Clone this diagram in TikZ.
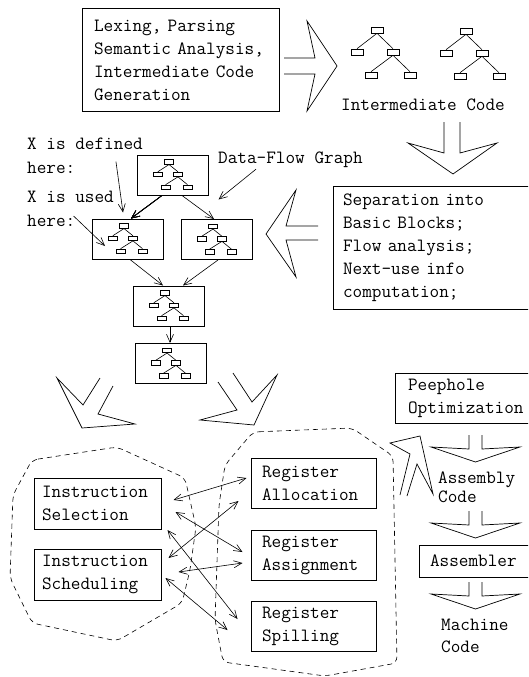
\documentclass[tikz,border=0pt]{standalone}
\usepackage{fontspec}
\usetikzlibrary{arrows.meta,calc}
\tikzset{
  stage/.style={draw,line width=1pt,inner sep=0pt,align=left,
    font=\ttfamily\fontsize{18.7}{23}\selectfont},
  instr/.style={stage,minimum width=127pt,minimum height=51pt,text width=111pt},
  reg/.style={stage,minimum width=125pt,minimum height=50pt,text width=103pt},
  dfg/.style={draw,line width=1pt,minimum width=71pt,minimum height=40pt,inner sep=0pt},
  tnode/.style={draw,line width=0.6pt,inner sep=0pt,minimum width=12pt,minimum height=6pt},
  tsmall/.style={tnode,minimum width=9pt,minimum height=4.5pt},
  lbl/.style={inner sep=0pt,anchor=west,text height=10pt,text depth=1pt,
    font=\ttfamily\fontsize{18.7}{23}\selectfont},
  fat/.style={line width=0.7pt,line join=miter},
  flow/.style={-{Straight Barb[length=8pt,width=7pt]},line width=0.6pt},
  link/.style={{Straight Barb[length=8pt,width=7pt]}-{Straight Barb[length=8pt,width=7pt]},line width=0.6pt},
  region/.style={dash pattern=on 5pt off 4pt,line width=0.6pt,rounded corners=6pt}
}
% a small expression tree: root position, spread, box style
\newcommand{\codetree}[3]{%
  \begin{scope}[shift={#1},x=#2pt,y=-#2pt]
    \node[#3] (tr) at (0,0) {};
    \node[#3] (ta) at (-20,22) {};
    \node[#3] (tb) at (16,22) {};
    \node[#3] (tc) at (-6,45) {};
    \node[#3] (td) at (33,45) {};
    \draw[line width=0.6pt] (tr.south) -- (ta.north) (tr.south) -- (tb.north)
      (tb.south) -- (tc.north) (tb.south) -- (td.north);
  \end{scope}}

\begin{document}
\begin{tikzpicture}[x=1pt,y=-1pt]
  \useasboundingbox (0,0) rectangle (528,677);
  \clip (0,0) rectangle (528,677);

  % front end
  \node[stage,minimum width=197pt,minimum height=102pt,text width=173pt] (lex) at (180.5,60)
    {Lexing, Parsing\\Semantic Analysis,\\Intermediate Code\\Generation};
  \draw[fat] (284,58) -- (315,58) -- (307,21) -- (337,66) -- (307,111) -- (315,74) -- (284,74);
  \codetree{(377,30)}{1}{tnode}
  \codetree{(466,31)}{1}{tnode}
  \node[lbl,anchor=center] (ic) at (423,106) {Intermediate Code};
  \draw[fat] (444,122) -- (444,153) -- (408,143) -- (453,174) -- (497,143) -- (460,153) -- (460,122);

  % basic blocks
  \node[stage,minimum width=212pt,minimum height=123pt,text width=192pt] (sep) at (439,247.5)
    {Separation into\\Basic Blocks;\\Flow analysis;\\Next-use info\\computation;};
  \draw[fat] (318,226) -- (286,226) -- (296,190) -- (266,234) -- (296,277) -- (286,240) -- (318,240);

  % data-flow graph
  \node[dfg] (dfgA) at (173,175) {};
  \node[dfg] (dfgB) at (128,239) {};
  \node[dfg] (dfgC) at (217,239.5) {};
  \node[dfg] (dfgD) at (169,306) {};
  \node[dfg] (dfgE) at (171,363.5) {};
  \foreach \n in {dfgA,dfgB,dfgC,dfgD,dfgE}
    \codetree{($(\n)+(-4,-13)$)}{0.56}{tsmall}
  \draw[flow] ([xshift=-11pt]dfgA.south) -- ([xshift=3pt]dfgB.north);
  \draw[flow] ([xshift=9pt]dfgA.south) -- ([xshift=-3pt]dfgC.north);
  \draw[flow] ([xshift=2pt]dfgB.south) -- ([xshift=-6pt]dfgD.north);
  \draw[flow] ([xshift=1pt]dfgC.south) -- ([xshift=14pt]dfgD.north);
  \draw[flow] ([xshift=1pt]dfgD.south) -- ([xshift=-1pt]dfgE.north);

  \node[lbl] (xdef) at (27,145) {X is defined};
  \node[lbl] (xdefh) at (27,169) {here:};
  \node[lbl] (xuse) at (27,198) {X is used};
  \node[lbl] (xuseh) at (27,222) {here:};
  \node[lbl] (dfl) at (218,159) {Data-Flow Graph};
  \draw[flow] ([shift={(-27,11)}]xdef.south east) -- ([shift={(-5,-6)}]dfgB.north);
  \draw[flow] ([shift={(-2,-6)}]xuseh.east) -- ([shift={(13,7)}]dfgB.west);
  \draw[flow] ([shift={(38,4.5)}]dfl.south west) -- ([shift={(9.5,4)}]dfgA.south east);

  % down to the two code generation groups
  \draw[fat] (100,378) -- (83,405) -- (57,378) -- (82,428) -- (135,424) -- (98,414) -- (113,386);
  \draw[fat] (218,382) -- (237,410) -- (200,420) -- (254,425) -- (277,375) -- (252,402) -- (233,373);

  \draw[region] (32,460) -- (117,447) -- (185,478) -- (196,527) -- (190,570) -- (182,603)
    -- (117,641) -- (32,623) -- (10,578) -- (13,495) -- cycle;
  \draw[region] (253,432) -- (352,428) -- (393,456) -- (397,663) -- (325,676) -- (223,662)
    -- (215,620) -- (219,505) -- (225,465) -- cycle;

  \node[instr] (sel) at (97.5,503.5) {Instruction\\Selection};
  \node[instr] (sched) at (97.5,574.5) {Instruction\\Scheduling};
  \node[reg] (alloc) at (313.5,483) {Register\\Allocation};
  \node[reg] (assign) at (313.5,555) {Register\\Assignment};
  \node[reg] (spill) at (313.5,626) {Register\\Spilling};

  \draw[link] ([shift={(12,-3.5)}]sel.east) -- ([shift={(-4,-5)}]alloc.west);
  \draw[link] ([shift={(14,8.5)}]sel.east) -- ([shift={(-8,-3)}]assign.west);
  \draw[link] ([shift={(-12,18)}]alloc.west) -- ([shift={(7,-16.5)}]sched.east);
  \draw[link] ([shift={(17,-2.5)}]sched.east) -- ([shift={(-8,8)}]assign.west);
  \draw[link] ([shift={(6,26.5)}]sel.east) -- ([shift={(-13,-7)}]spill.west);
  \draw[link] ([shift={(4,3.5)}]sched.east) -- ([shift={(-23,4)}]spill.west);

  % back end
  \draw[fat] (400,495) -- (410,454) -- (390,443) -- (420,436) -- (433,494) -- (417,464) -- (407,496);
  \node[stage,minimum width=145pt,minimum height=50pt,text width=119pt] (peep) at (467.5,398)
    {Peephole\\Optimization};
  \node[lbl] (asmc) at (438,479) {Assembly};
  \node[lbl] (asmc2) at (438,498) {Code};
  \node[stage,minimum width=121pt,minimum height=32pt,text width=99pt] (asm) at (479.5,561) {Assembler};
  \node[lbl] (mc) at (441,626) {Machine};
  \node[lbl] (mc2) at (441,648) {Code};
  \foreach \t in {435,511,582}
    \draw[fat] (469,\t) -- ++(0,14) -- (431,\t+12) -- (475.5,\t+27) -- (520,\t+12)
      -- (482,\t+14) -- ++(0,-14);
\end{tikzpicture}
\end{document}
